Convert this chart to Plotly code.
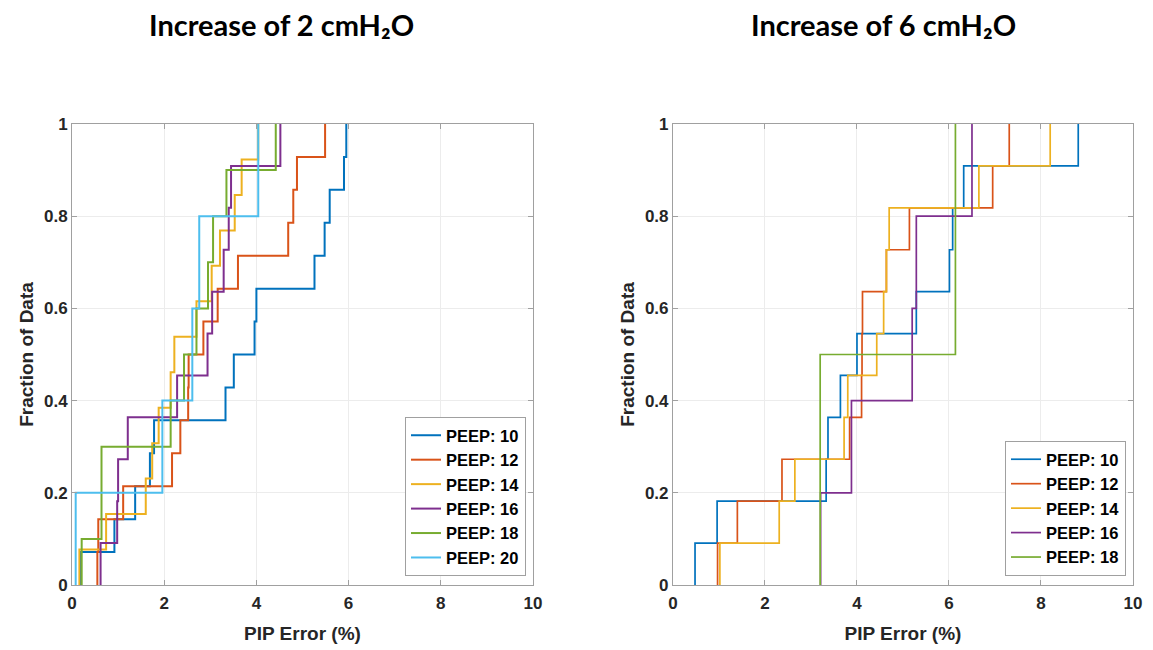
import plotly.graph_objects as go

# ---- Data (PIP error %, sorted samples per PEEP level) ----
peep_labels_left = ["PEEP: 10", "PEEP: 12", "PEEP: 14", "PEEP: 16", "PEEP: 18", "PEEP: 20"]
left_peep10 = [0.19, 0.92, 1.37, 1.69, 1.78, 3.33, 3.51, 3.96, 4.00, 5.26, 5.48, 5.59, 5.90, 5.95]
left_peep12 = [0.55, 0.57, 1.11, 2.17, 2.35, 2.52, 2.53, 2.85, 3.16, 3.60, 4.69, 4.80, 4.88, 5.49]
left_peep14 = [0.16, 0.74, 1.60, 1.74, 1.88, 2.14, 2.22, 2.70, 3.03, 3.21, 3.53, 3.68, 4.04]
left_peep16 = [0.62, 0.98, 1.00, 1.21, 2.28, 2.94, 3.04, 3.29, 3.40, 3.45, 4.52]
left_peep18 = [0.21, 0.64, 0.64, 2.14, 2.43, 2.70, 2.95, 3.06, 3.35, 4.42]
left_peep20 = [0.08, 1.96, 2.61, 2.76, 4.04]

peep_labels_right = ["PEEP: 10", "PEEP: 12", "PEEP: 14", "PEEP: 16", "PEEP: 18"]
right_peep10 = [0.48, 0.96, 3.33, 3.37, 3.64, 4.00, 5.29, 6.01, 6.08, 6.32, 8.81]
right_peep12 = [0.97, 1.40, 2.37, 3.84, 4.10, 4.11, 4.12, 4.64, 5.14, 6.95, 7.31]
right_peep14 = [1.02, 2.31, 2.65, 3.72, 3.80, 4.43, 4.58, 4.64, 4.70, 6.65, 8.20]
right_peep16 = [3.21, 3.88, 5.20, 5.29, 6.50]
right_peep18 = [3.20, 6.14]

x_ticks = [0, 2, 4, 6, 8, 10]
y_ticks = [0, 0.2, 0.4, 0.6, 0.8, 1]
y_ticktext = ["0", "0.2", "0.4", "0.6", "0.8", "1"]

titles = ["Increase of 2 cmH\u2082O", "Increase of 6 cmH\u2082O"]
x_title = "PIP Error (%)"
y_title = "Fraction of Data"

colors = ["#0072BD", "#D95319", "#EDB120", "#7E2F8E", "#77AC30", "#4DBEEE"]


def ecdf_xy(samples):
    s = sorted(samples)
    n = len(s)
    xs = [s[0]] + s
    ys = [0.0] + [(i + 1) / n for i in range(n)]
    return xs, ys


fig = go.Figure()

left_sets = [left_peep10, left_peep12, left_peep14, left_peep16, left_peep18, left_peep20]
for lab, data, col in zip(peep_labels_left, left_sets, colors):
    xs, ys = ecdf_xy(data)
    fig.add_trace(go.Scatter(x=xs, y=ys, mode="lines", line=dict(color=col, width=2, shape="hv"),
                             name=lab, xaxis="x", yaxis="y", legend="legend"))

right_sets = [right_peep10, right_peep12, right_peep14, right_peep16, right_peep18]
for lab, data, col in zip(peep_labels_right, right_sets, colors):
    xs, ys = ecdf_xy(data)
    fig.add_trace(go.Scatter(x=xs, y=ys, mode="lines", line=dict(color=col, width=1.7, shape="hv"),
                             name=lab, xaxis="x2", yaxis="y2", legend="legend2"))

tick_font = dict(family="Liberation Sans", size=17, color="#262626", weight="bold")
title_font = dict(family="Liberation Sans", size=19, color="#262626", weight="bold")
axis_color = "#a0a0a0"
grid_color = "#ececec"


def xaxis_style(domain, anchor):
    return dict(domain=domain, anchor=anchor, range=[0, 10], tickvals=x_ticks,
                showgrid=True, gridcolor=grid_color, gridwidth=1, zeroline=False,
                showline=True, linecolor=axis_color, linewidth=1, mirror="ticks",
                ticks="inside", ticklen=5, tickcolor=axis_color, ticklabelstandoff=3,
                tickfont=tick_font, title=dict(text=x_title, font=title_font, standoff=14),
                automargin=False)


def yaxis_style(anchor):
    return dict(domain=[0, 1], anchor=anchor, range=[0, 1], tickvals=y_ticks, ticktext=y_ticktext,
                showgrid=True, gridcolor=grid_color, gridwidth=1, zeroline=False,
                showline=True, linecolor=axis_color, linewidth=1, mirror="ticks",
                ticks="inside", ticklen=5, tickcolor=axis_color,
                tickfont=tick_font, title=dict(text=y_title, font=title_font, standoff=5),
                automargin=False)


legend_common = dict(bgcolor="white", bordercolor=axis_color, borderwidth=1,
                     font=dict(family="Liberation Sans", size=16.5, color="black", weight="bold"),
                     xanchor="right", yanchor="bottom", tracegroupgap=0, itemwidth=30)

fig.update_layout(
    width=1145, height=642,
    margin=dict(l=64, r=20, t=116, b=65),
    paper_bgcolor="white", plot_bgcolor="white",
    xaxis=xaxis_style([0, 0.4345], "y"),
    yaxis=yaxis_style("x"),
    xaxis2=xaxis_style([0.5664, 1.0], "y2"),
    yaxis2=yaxis_style("x2"),
    legend=dict(x=0.4279, y=0.0195, **legend_common),
    legend2=dict(x=0.9934, y=0.0195, **legend_common),
    annotations=[
        dict(text=titles[0], x=0.1979, y=1.216, xref="paper", yref="paper", showarrow=False,
             xanchor="center", yanchor="middle",
             font=dict(family="Lato", size=29, color="black", weight="bold")),
        dict(text=titles[1], x=0.7644, y=1.216, xref="paper", yref="paper", showarrow=False,
             xanchor="center", yanchor="middle",
             font=dict(family="Lato", size=29, color="black", weight="bold")),
    ],
)

fig.write_html("out.html")
